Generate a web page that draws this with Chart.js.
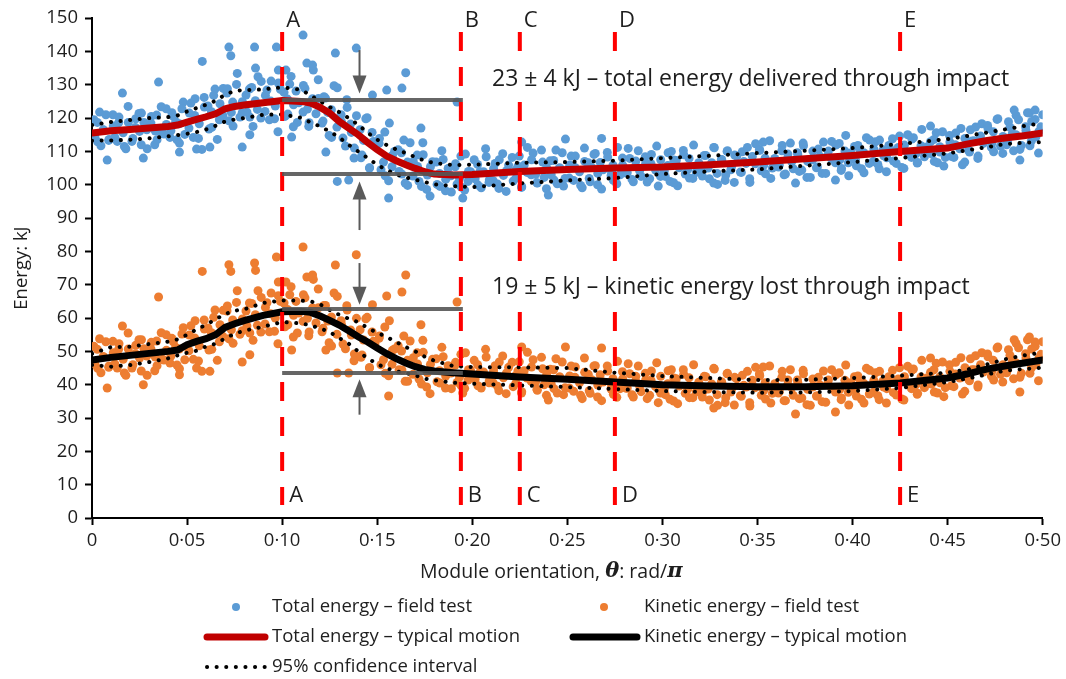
<!DOCTYPE html>
<html>
<head>
<meta charset="utf-8">
<script src="https://cdn.jsdelivr.net/npm/chart.js@4.4.0/dist/chart.umd.min.js"></script>
<style>
  html, body { margin: 0; padding: 0; background: #fff; }
  #wrap { width: 1066px; height: 679px; }
</style>
</head>
<body>
<div id="wrap"><canvas id="energyChart" width="1066" height="679"></canvas></div>
<script>
// field test samples - total and kinetic energy were logged at the same orientations
const testTheta = [
  0.001, 0.003, 0.004, 0.006, 0.009,  0.011, 0.012, 0.014, 0.017, 0.019,
  0.021, 0.023, 0.025, 0.026, 0.029,  0.031, 0.033, 0.034, 0.037, 0.039,
  0.041, 0.042, 0.044, 0.046, 0.048,  0.051, 0.052, 0.054, 0.056, 0.059,
  0.061, 0.063, 0.064, 0.067, 0.069,  0.071, 0.072, 0.074, 0.076, 0.079,
  0.081, 0.083, 0.084, 0.087, 0.089,  0.091, 0.092, 0.094, 0.096, 0.098,
  0.101, 0.103, 0.104, 0.106, 0.108,  0.111, 0.112, 0.114, 0.116, 0.119,
  0.121, 0.122, 0.124, 0.126, 0.129,  0.131, 0.132, 0.134, 0.136, 0.138,
  0.141, 0.142, 0.144, 0.146, 0.148,  0.151, 0.152, 0.154, 0.156, 0.158,
  0.161, 0.163, 0.164, 0.166, 0.169,  0.171, 0.172, 0.174, 0.176, 0.178,
  0.181, 0.183, 0.184, 0.186, 0.189,  0.191, 0.192, 0.194, 0.196, 0.198,
  0.201, 0.203, 0.204, 0.207, 0.209,  0.211, 0.212, 0.214, 0.216, 0.218,
  0.221, 0.223, 0.224, 0.226, 0.229,  0.231, 0.232, 0.234, 0.237, 0.239,
  0.241, 0.243, 0.244, 0.246, 0.248,  0.251, 0.252, 0.254, 0.257, 0.259,
  0.261, 0.262, 0.264, 0.266, 0.268,  0.271, 0.273, 0.274, 0.276, 0.279,
  0.281, 0.282, 0.284, 0.286, 0.288,  0.291, 0.292, 0.294, 0.297, 0.299,
  0.301, 0.303, 0.304, 0.306, 0.308,  0.311, 0.312, 0.314, 0.316, 0.319,
  0.321, 0.322, 0.324, 0.327, 0.329,  0.331, 0.333, 0.334, 0.336, 0.338,
  0.341, 0.342, 0.344, 0.346, 0.349,  0.351, 0.352, 0.354, 0.357, 0.359,
  0.361, 0.363, 0.364, 0.366, 0.368,  0.371, 0.372, 0.374, 0.376, 0.379,
  0.381, 0.382, 0.384, 0.387, 0.389,  0.391, 0.393, 0.394, 0.396, 0.398,
  0.401, 0.402, 0.404, 0.406, 0.409,  0.411, 0.412, 0.414, 0.416, 0.418,
  0.421, 0.423, 0.424, 0.427, 0.429,  0.431, 0.432, 0.434, 0.436, 0.438,
  0.441, 0.443, 0.444, 0.446, 0.448,  0.451, 0.452, 0.454, 0.457, 0.459,
  0.461, 0.462, 0.464, 0.466, 0.468,  0.471, 0.473, 0.474, 0.476, 0.479,
  0.481, 0.482, 0.484, 0.486, 0.488,  0.491, 0.492, 0.494, 0.496, 0.498, 0.500,
  // second pass
  0.0015, 0.0028, 0.0047, 0.0059, 0.0073, 0.0088,  0.0112, 0.0133, 0.0142, 0.0164, 0.0178, 0.0191,
  0.0215, 0.0228, 0.0247, 0.0259, 0.0273, 0.0288,  0.0312, 0.0333, 0.0342, 0.0364, 0.0378, 0.0391,
  0.0415, 0.0428, 0.0447, 0.0459, 0.0473, 0.0488,  0.0512, 0.0533, 0.0542, 0.0564, 0.0578, 0.0591,
  0.0615, 0.0628, 0.0647, 0.0659, 0.0673, 0.0688,  0.0712, 0.0733, 0.0742, 0.0764, 0.0778, 0.0791,
  0.0815, 0.0828, 0.0847, 0.0859, 0.0873, 0.0888,  0.0912, 0.0933, 0.0942, 0.0964, 0.0978, 0.0991,
  0.1015, 0.1028, 0.1047, 0.1059, 0.1073, 0.1088,  0.1112, 0.1133, 0.1142, 0.1164, 0.1178, 0.1191,
  0.1215, 0.1228, 0.1247, 0.1259, 0.1273, 0.1288,  0.1312, 0.1333, 0.1342, 0.1364, 0.1378, 0.1391,
  0.1415, 0.1428, 0.1447, 0.1459, 0.1473, 0.1488,  0.1512, 0.1533, 0.1542, 0.1564, 0.1578, 0.1591,
  0.1615, 0.1628, 0.1647, 0.1659, 0.1673, 0.1688,  0.1712, 0.1733, 0.1742, 0.1764, 0.1778, 0.1791,
  0.1815, 0.1828, 0.1847, 0.1859, 0.1873, 0.1888,  0.1912, 0.1933, 0.1942, 0.1964, 0.1978, 0.1991,
  0.2015, 0.2028, 0.2047, 0.2059, 0.2073, 0.2088,  0.2112, 0.2133, 0.2142, 0.2164, 0.2178, 0.2191,
  0.2215, 0.2228, 0.2247, 0.2259, 0.2273, 0.2288,  0.2312, 0.2333, 0.2342, 0.2364, 0.2378, 0.2391,
  0.2415, 0.2428, 0.2447, 0.2459, 0.2473, 0.2488,  0.2512, 0.2533, 0.2542, 0.2564, 0.2578, 0.2591,
  0.2615, 0.2628, 0.2647, 0.2659, 0.2673, 0.2688,  0.2712, 0.2733, 0.2742, 0.2764, 0.2778, 0.2791,
  0.2815, 0.2828, 0.2847, 0.2859, 0.2873, 0.2888,  0.2912, 0.2933, 0.2942, 0.2964, 0.2978, 0.2991,
  0.3015, 0.3028, 0.3047, 0.3059, 0.3073, 0.3088,  0.3112, 0.3133, 0.3142, 0.3164, 0.3178, 0.3191,
  0.3215, 0.3228, 0.3247, 0.3259, 0.3273, 0.3288,  0.3312, 0.3333, 0.3342, 0.3364, 0.3378, 0.3391,
  0.3415, 0.3428, 0.3447, 0.3459, 0.3473, 0.3488,  0.3512, 0.3533, 0.3542, 0.3564, 0.3578, 0.3591,
  0.3615, 0.3628, 0.3647, 0.3659, 0.3673, 0.3688,  0.3712, 0.3733, 0.3742, 0.3764, 0.3778, 0.3791,
  0.3815, 0.3828, 0.3847, 0.3859, 0.3873, 0.3888,  0.3912, 0.3933, 0.3942, 0.3964, 0.3978, 0.3991,
  0.4015, 0.4028, 0.4047, 0.4059, 0.4073, 0.4088,  0.4112, 0.4133, 0.4142, 0.4164, 0.4178, 0.4191,
  0.4215, 0.4228, 0.4247, 0.4259, 0.4273, 0.4288,  0.4312, 0.4333, 0.4342, 0.4364, 0.4378, 0.4391,
  0.4415, 0.4428, 0.4447, 0.4459, 0.4473, 0.4488,  0.4512, 0.4533, 0.4542, 0.4564, 0.4578, 0.4591,
  0.4615, 0.4628, 0.4647, 0.4659, 0.4673, 0.4688,  0.4712, 0.4733, 0.4742, 0.4764, 0.4778, 0.4791,
  0.4815, 0.4828, 0.4847, 0.4859, 0.4873, 0.4888,  0.4912, 0.4933, 0.4942, 0.4964, 0.4978, 0.4991,
  // scattered readings
  0.008, 0.016, 0.027, 0.035, 0.046, 0.055, 0.058, 0.062, 0.072, 0.073,
  0.079, 0.083, 0.0855, 0.086, 0.097, 0.098, 0.102, 0.105, 0.111, 0.113,
  0.116, 0.123, 0.128, 0.129, 0.135, 0.139, 0.1475, 0.155, 0.156, 0.163,
  0.165, 0.173, 0.192, 0.195, 0.226, 0.240, 0.249, 0.268, 0.327, 0.353,
  0.370, 0.391, 0.441, 0.485, 0.488, 0.493, 0.496
];
const totalTest = [
  119.5, 112.9, 121.8, 116.4, 113.6,  121.0, 114.2, 118.6, 111.5, 123.5,
  113.0, 119.8, 116.0, 121.5, 110.8,  118.5, 112.0, 120.9, 115.4, 122.8,
  114.2, 121.6, 118.9, 112.5, 124.8,  117.0, 124.5, 120.8, 113.9, 126.2,
  123.6, 117.2, 126.8, 119.5, 128.9,  127.5, 119.2, 124.8, 130.1, 121.6,
  126.9, 120.3, 129.2, 122.6, 131.0,  122.0, 128.4, 125.1, 119.8, 130.5,
  127.7, 121.2, 130.2, 124.0, 118.7,  121.8, 128.9, 117.5, 125.8, 131.5,
  118.5, 126.4, 121.7, 114.2, 129.1,  121.0, 114.0, 125.5, 118.2, 111.0,
  116.5, 108.9, 119.8, 105.1, 113.0,  112.4, 104.5, 115.8, 101.2, 108.8,
  110.5, 103.2, 113.4, 99.8, 106.9,   108.9, 101.0, 112.6, 98.6, 105.4,
  106.8, 99.5, 110.2, 101.6, 97.8,    105.4, 100.2, 108.6, 98.4, 104.0,
  107.5, 99.9, 103.9, 110.8, 101.5,   101.2, 106.4, 98.9, 109.3, 104.2,
  108.2, 102.0, 105.6, 99.4, 111.2,   103.0, 109.5, 100.6, 106.8, 98.8,
  107.2, 101.4, 110.4, 104.9, 99.6,   102.0, 108.6, 105.2, 99.8, 111.0,
  106.6, 100.9, 109.1, 103.4, 98.7,   109.7, 102.8, 105.9, 100.3, 108.0,
  103.5, 110.9, 101.6, 107.1, 104.2,  108.4, 100.8, 106.3, 111.6, 102.5,
  104.1, 109.6, 101.0, 107.4, 99.7,   110.3, 103.2, 107.9, 101.9, 105.8,
  102.6, 108.8, 105.0, 111.2, 100.1,  107.6, 101.3, 110.0, 104.5, 108.9,
  103.8, 109.9, 106.4, 100.7, 112.3,  110.6, 104.2, 108.0, 101.9, 106.6,
  105.3, 111.8, 103.0, 109.2, 106.9,  109.6, 104.0, 112.5, 102.2, 107.5,
  105.1, 110.7, 103.4, 108.9, 113.0,  106.6, 112.4, 104.3, 110.1, 102.7,
  111.5, 105.7, 109.8, 103.6, 113.4,  107.0, 112.9, 104.8, 110.4, 108.1,
  113.8, 106.4, 111.2, 104.9, 115.0,  108.2, 114.1, 106.5, 111.7, 109.4,
  112.9, 107.0, 115.6, 109.8, 105.6,  114.8, 108.5, 112.0, 116.9, 106.8,
  110.4, 116.5, 113.2, 108.6, 118.3,  117.8, 111.2, 115.9, 119.6, 109.4,
  112.0, 118.9, 115.3, 120.8, 110.6,  117.4, 121.6, 113.1, 119.6, 116.0, 121.0,
  // second pass
  114.4, 118.7, 111.7, 116.5, 121.0, 113.3,  117.6, 113.0, 120.3, 115.6, 110.8, 118.7,
  113.9, 117.2, 121.4, 112.0, 118.7, 116.5,  120.5, 116.1, 113.5, 123.4, 115.2, 118.1,
  116.2, 120.5, 113.5, 118.3, 122.8, 115.1,  121.5, 114.2, 125.8, 118.3, 110.6, 123.3,
  116.7, 121.9, 128.7, 113.6, 124.3, 120.8,  128.8, 121.7, 117.6, 133.4, 120.3, 124.9,
  121.8, 128.7, 117.5, 125.2, 132.4, 120.0,  126.8, 119.5, 131.1, 123.6, 115.9, 128.6,
  120.5, 125.7, 132.5, 117.4, 128.1, 124.6,  129.8, 122.7, 118.6, 134.4, 121.3, 125.9,
  119.1, 126.0, 114.8, 122.5, 129.7, 117.3,  118.9, 111.6, 123.2, 115.7, 108.0, 120.7,
  108.1, 113.3, 120.1, 105.0, 115.7, 112.2,  113.9, 106.8, 102.7, 118.5, 105.4, 110.0,
  104.0, 109.6, 100.5, 106.8, 112.6, 102.6,  105.5, 99.5, 109.0, 102.9, 96.6, 106.9,
  100.1, 103.4, 107.6, 98.2, 104.9, 102.7,   106.3, 101.9, 99.3, 109.2, 101.0, 103.9,
  101.8, 106.1, 99.1, 103.9, 108.4, 100.7,   104.8, 100.2, 107.5, 102.8, 98.0, 105.9,
  101.1, 104.4, 108.6, 99.2, 105.9, 103.7,   107.5, 103.1, 100.5, 110.4, 102.2, 105.1,
  103.0, 107.3, 100.3, 105.1, 109.6, 101.9,  105.9, 101.3, 108.6, 103.9, 99.1, 107.0,
  101.9, 105.2, 109.4, 100.0, 106.7, 104.5,  108.3, 103.9, 101.3, 111.2, 103.0, 105.9,
  103.6, 107.9, 100.9, 105.7, 110.2, 102.5,  106.4, 101.8, 109.1, 104.4, 99.6, 107.5,
  102.5, 105.8, 110.0, 100.6, 107.3, 105.1,  109.0, 104.6, 102.0, 111.9, 103.7, 106.6,
  104.5, 108.8, 101.8, 106.6, 111.1, 103.4,  107.5, 102.9, 110.2, 105.5, 100.7, 108.6,
  103.7, 107.0, 111.2, 101.8, 108.5, 106.3,  110.3, 105.9, 103.3, 113.2, 105.0, 107.9,
  105.9, 110.2, 103.2, 108.0, 112.5, 104.8,  109.0, 104.4, 111.7, 107.0, 102.2, 110.1,
  105.3, 108.6, 112.8, 103.4, 110.1, 107.9,  111.9, 107.5, 104.9, 114.8, 106.6, 109.5,
  107.5, 111.8, 104.8, 109.6, 114.1, 106.4,  110.7, 106.1, 113.4, 108.7, 103.9, 111.8,
  107.1, 110.4, 114.6, 105.2, 111.9, 109.7,  113.7, 109.3, 106.7, 116.6, 108.4, 111.3,
  109.3, 113.6, 106.6, 111.4, 115.9, 108.2,  112.8, 108.2, 115.5, 110.8, 106.0, 113.9,
  109.8, 113.1, 117.3, 107.9, 114.6, 112.4,  116.9, 112.5, 109.9, 119.8, 111.6, 114.5,
  112.9, 117.2, 110.2, 115.0, 119.5, 111.8,  116.3, 111.7, 119.0, 114.3, 109.5, 117.4,
  // scattered readings
  107.4, 127.5, 108.0, 130.8, 109.8, 110.7, 137.0, 111.3, 141.3, 138.7,
  111.3, 115.0, 141.3, 135.0, 141.3, 134.4, 134.4, 114.3, 144.9, 136.5,
  135.9, 109.8, 139.5, 101.0, 101.4, 141.0, 126.9, 128.4, 96.0, 129.0,
  133.6, 117.0, 124.8, 96.0, 112.8, 96.9, 113.7, 113.9, 100.5, 112.8,
  100.5, 101.4, 117.6, 122.4, 107.4, 121.5, 122.4
];
const kineticTest = [
  51.5, 44.9, 53.8, 48.4, 45.6,  53.0, 46.2, 50.6, 43.5, 55.5,
  45.0, 51.8, 48.0, 53.5, 42.8,  50.7, 44.2, 53.1, 47.6, 55.0,
  46.5, 53.9, 51.2, 44.8, 57.1,  50.2, 57.7, 54.0, 47.1, 59.4,
  57.0, 50.6, 60.2, 52.9, 62.3,  62.1, 53.8, 59.4, 64.7, 56.2,
  62.1, 55.5, 64.4, 57.8, 66.2,  58.2, 64.6, 61.3, 56.0, 66.7,
  64.5, 58.0, 67.0, 60.8, 55.5,  59.0, 66.1, 54.7, 63.0, 68.7,
  55.9, 63.8, 59.1, 51.6, 66.5,  59.2, 52.2, 63.7, 56.4, 49.2,
  56.5, 48.9, 59.8, 45.1, 53.0,  53.9, 46.0, 57.3, 42.7, 50.3,
  51.7, 44.4, 54.6, 41.0, 48.1,  49.6, 41.7, 53.3, 39.3, 46.1,
  47.8, 40.5, 51.2, 42.6, 38.8,  45.9, 40.7, 49.1, 38.9, 44.5,
  47.3, 39.7, 43.7, 50.6, 41.3,  40.5, 45.7, 38.2, 48.6, 43.5,
  46.7, 40.5, 44.1, 37.9, 49.7,  41.0, 47.5, 38.6, 44.8, 36.8,
  44.6, 38.8, 47.8, 42.3, 37.0,  39.0, 45.6, 42.2, 36.8, 48.0,
  43.1, 37.4, 45.6, 39.9, 35.2,  45.6, 38.7, 41.8, 36.2, 43.9,
  38.9, 46.3, 37.0, 42.5, 39.6,  43.4, 35.8, 41.3, 46.6, 37.5,
  38.7, 44.2, 35.6, 42.0, 34.3,  44.5, 37.4, 42.1, 36.1, 40.0,
  36.3, 42.5, 38.7, 44.9, 33.8,  40.9, 34.6, 43.3, 37.8, 42.2,
  36.7, 42.8, 39.3, 33.6, 45.2,  43.2, 36.8, 40.6, 34.5, 39.2,
  37.5, 44.0, 35.2, 41.4, 39.1,  41.4, 35.8, 44.3, 34.0, 39.3,
  36.6, 42.2, 34.9, 40.4, 44.5,  37.8, 43.6, 35.5, 41.3, 33.9,
  42.4, 36.6, 40.7, 34.5, 44.3,  37.7, 43.6, 35.5, 41.1, 38.8,
  44.3, 36.9, 41.7, 35.4, 45.5,  38.8, 44.7, 37.1, 42.3, 40.0,
  43.7, 37.8, 46.4, 40.6, 36.4,  46.0, 39.7, 43.2, 48.1, 38.0,
  41.7, 47.8, 44.5, 39.9, 49.6,  49.2, 42.6, 47.3, 51.0, 40.8,
  43.6, 50.5, 46.9, 52.4, 42.2,  49.3, 53.5, 45.0, 51.5, 47.9, 52.9,
  // second pass
  46.3, 50.6, 43.6, 48.4, 52.9, 45.2,  49.6, 45.0, 52.3, 47.6, 42.8, 50.7,
  46.0, 49.3, 53.5, 44.1, 50.8, 48.6,  52.7, 48.3, 45.7, 55.6, 47.4, 50.3,
  48.6, 52.9, 45.9, 50.7, 55.2, 47.5,  54.9, 47.6, 59.2, 51.7, 44.0, 56.7,
  50.4, 55.6, 62.4, 47.3, 58.0, 54.5,  63.6, 56.5, 52.4, 68.2, 55.1, 59.7,
  57.6, 64.5, 53.3, 61.0, 68.2, 55.8,  63.2, 55.9, 67.5, 60.0, 52.3, 65.0,
  57.4, 62.6, 69.4, 54.3, 65.0, 61.5,  67.0, 59.9, 55.8, 71.6, 58.5, 63.1,
  56.9, 63.8, 52.6, 60.3, 67.5, 55.1,  58.1, 50.8, 62.4, 54.9, 47.2, 59.9,
  48.2, 53.4, 60.2, 45.1, 55.8, 52.3,  54.6, 47.5, 43.4, 59.2, 46.1, 50.7,
  44.5, 50.1, 41.0, 47.3, 53.1, 43.1,  46.2, 40.2, 49.7, 43.6, 37.3, 47.6,
  40.9, 44.2, 48.4, 39.0, 45.7, 43.5,  46.7, 42.3, 39.7, 49.6, 41.4, 44.3,
  41.7, 46.0, 39.0, 43.8, 48.3, 40.6,  44.1, 39.5, 46.8, 42.1, 37.3, 45.2,
  39.4, 42.7, 46.9, 37.5, 44.2, 42.0,  45.3, 40.9, 38.3, 48.2, 40.0, 42.9,
  40.2, 44.5, 37.5, 42.3, 46.8, 39.1,  42.6, 38.0, 45.3, 40.6, 35.8, 43.7,
  38.2, 41.5, 45.7, 36.3, 43.0, 40.8,  44.1, 39.7, 37.1, 47.0, 38.8, 41.7,
  39.0, 43.3, 36.3, 41.1, 45.6, 37.9,  41.4, 36.8, 44.1, 39.4, 34.6, 42.5,
  37.0, 40.3, 44.5, 35.1, 41.8, 39.6,  43.1, 38.7, 36.1, 46.0, 37.8, 40.7,
  38.1, 42.4, 35.4, 40.2, 44.7, 37.0,  40.7, 36.1, 43.4, 38.7, 33.9, 41.8,
  36.5, 39.8, 44.0, 34.6, 41.3, 39.1,  42.7, 38.3, 35.7, 45.6, 37.4, 40.3,
  37.9, 42.2, 35.2, 40.0, 44.5, 36.8,  40.6, 36.0, 43.3, 38.6, 33.8, 41.7,
  36.6, 39.9, 44.1, 34.7, 41.4, 39.2,  43.0, 38.6, 36.0, 45.9, 37.7, 40.6,
  38.3, 42.6, 35.6, 40.4, 44.9, 37.2,  41.3, 36.7, 44.0, 39.3, 34.5, 42.4,
  37.6, 40.9, 45.1, 35.7, 42.4, 40.2,  44.4, 40.0, 37.4, 47.3, 39.1, 42.0,
  40.2, 44.5, 37.5, 42.3, 46.8, 39.1,  44.0, 39.4, 46.7, 42.0, 37.2, 45.1,
  41.2, 44.5, 48.7, 39.3, 46.0, 43.8,  48.4, 44.0, 41.4, 51.3, 43.1, 46.0,
  44.5, 48.8, 41.8, 46.6, 51.1, 43.4,  48.0, 43.4, 50.7, 46.0, 41.2, 49.1,
  // scattered readings
  39.0, 57.6, 40.0, 66.3, 43.0, 45.0, 74.0, 44.0, 76.0, 74.0,
  46.8, 49.0, 76.5, 74.3, 78.3, 70.8, 70.8, 50.4, 81.3, 72.3,
  72.9, 50.4, 75.9, 43.5, 43.5, 79.0, 64.0, 66.6, 36.6, 67.8,
  72.9, 58.0, 64.8, 37.5, 51.3, 35.4, 51.3, 51.0, 33.0, 45.3,
  31.2, 31.8, 48.0, 53.5, 37.8, 54.3, 52.8
];

// typical motion and its 95% band
const curveTheta = [0, 0.01, 0.02, 0.03, 0.04, 0.045, 0.05, 0.055, 0.06, 0.065, 0.07, 0.075, 0.08, 0.09,
  0.10, 0.11, 0.115, 0.12, 0.125, 0.13, 0.135, 0.14, 0.145, 0.15, 0.155, 0.16, 0.165, 0.17, 0.175, 0.18,
  0.19, 0.20, 0.225, 0.25, 0.275, 0.30, 0.325, 0.35, 0.375, 0.40, 0.425, 0.45, 0.46, 0.47, 0.48, 0.49, 0.50];
const totalTypical = [115.5, 116.2, 116.6, 117.0, 117.5, 117.9, 118.8, 119.6, 120.4, 121.3, 122.8, 123.5, 123.9, 124.6,
  125.3, 125.0, 124.5, 123.2, 121.5, 119.0, 117.0, 115.0, 112.7, 110.5, 108.6, 107.2, 106.0, 104.9, 103.9, 103.2,
  102.9, 103.1, 104.0, 104.6, 105.0, 105.3, 106.0, 106.8, 107.8, 108.8, 110.0, 111.0, 112.2, 113.2, 114.0, 114.7, 115.5];
const totalUpper = [117.9, 118.8, 119.4, 120.0, 120.3, 120.8, 122.0, 123.0, 124.0, 125.2, 127.0, 128.2, 128.4, 128.6,
  129.2, 128.5, 126.8, 125.0, 123.3, 121.8, 120.0, 118.0, 115.6, 113.5, 111.9, 110.6, 109.5, 108.3, 107.2, 106.5,
  105.9, 106.0, 106.6, 106.8, 107.2, 108.0, 108.7, 109.5, 110.2, 111.0, 112.2, 113.7, 114.6, 115.6, 116.6, 117.6, 118.5];
const totalLower = [113.2, 113.3, 113.5, 113.9, 114.5, 114.9, 115.3, 115.8, 116.6, 117.7, 119.0, 119.6, 120.0, 121.0,
  121.1, 120.1, 118.7, 117.5, 116.0, 114.2, 112.0, 110.0, 108.0, 106.0, 104.4, 103.1, 102.2, 101.5, 100.8, 100.1,
  99.6, 99.3, 100.4, 101.3, 102.0, 103.2, 104.0, 104.6, 105.7, 106.8, 108.0, 109.4, 110.3, 111.2, 112.2, 112.6, 112.8];
const kineticTypical = [47.4, 48.2, 48.8, 49.4, 50.0, 50.4, 52.0, 53.0, 53.8, 55.0, 57.2, 58.3, 59.2, 60.8,
  61.9, 62.0, 61.7, 60.6, 59.3, 57.9, 56.2, 54.4, 52.8, 51.0, 49.3, 47.8, 46.5, 45.4, 44.6, 44.1,
  43.6, 43.2, 42.3, 41.6, 40.8, 40.0, 39.6, 39.4, 39.4, 39.7, 40.5, 42.0, 43.2, 44.6, 45.6, 46.5, 47.4];
const kineticUpper = [49.3, 51.3, 51.4, 52.2, 52.9, 53.6, 55.0, 56.6, 58.0, 59.6, 61.2, 62.2, 62.6, 64.5,
  65.3, 65.2, 65.0, 64.1, 62.4, 61.0, 59.8, 58.8, 57.0, 55.6, 54.3, 52.8, 51.3, 50.0, 48.4, 47.2,
  45.6, 45.3, 45.2, 45.0, 43.6, 42.6, 42.0, 41.4, 41.5, 42.0, 42.7, 43.6, 44.5, 46.0, 47.6, 48.8, 49.7];
const kineticLower = [45.9, 45.4, 45.9, 46.8, 47.9, 48.8, 49.6, 50.2, 51.5, 52.3, 53.9, 55.3, 56.2, 57.4,
  58.8, 58.4, 57.8, 56.9, 55.8, 54.0, 52.3, 50.0, 47.9, 46.2, 44.9, 44.0, 43.5, 42.8, 41.8, 41.3,
  40.6, 40.3, 39.8, 39.3, 38.7, 38.1, 37.8, 37.6, 37.7, 38.1, 39.0, 40.8, 41.8, 43.0, 44.2, 44.7, 45.1];

// marked orientations
const markTheta = [0.10, 0.194, 0.225, 0.275, 0.425];
const markLabels = ['A', 'B', 'C', 'D', 'E'];

// energy change through impact (upper and lower level, range of theta)
const totalBand = [125.4, 103.2];
const kineticBand = [62.7, 43.5];
const bandTheta = [0.10, 0.194];
const bandNotes = ['23 \u00B1 4 kJ \u2013 total energy delivered through impact',
                   '19 \u00B1 5 kJ \u2013 kinetic energy lost through impact'];

const xTicks = [0, 0.05, 0.10, 0.15, 0.20, 0.25, 0.30, 0.35, 0.40, 0.45, 0.50];

const BLUE = '#5b9bd5', ORANGE = '#ed7d31', RED = '#c00000', TXT = '#1e1e1e';
const FONT = '"Open Sans", "Noto Sans", sans-serif';

const pts = (xs, ys) => xs.map((x, i) => ({ x: x, y: ys[i] }));

function dotted(label, ys, slot) {
  return {
    label: label, data: pts(curveTheta, ys), showLine: true, pointRadius: 0,
    borderColor: '#000', borderWidth: 4, borderDash: [0.1, 9.5], borderCapStyle: 'round',
    fill: false, order: 2, legendSlot: slot
  };
}

// draws marker lines, bands, arrows and notes
const annotations = {
  id: 'annotations',
  afterDatasetsDraw(chart) {
    const { ctx, scales: { x, y } } = chart;
    ctx.save();

    // vertical dashed marks
    ctx.strokeStyle = '#ff0000';
    ctx.lineWidth = 4;
    ctx.setLineDash([19, 16]);
    markTheta.forEach(t => {
      const px = x.getPixelForValue(t);
      ctx.beginPath();
      ctx.moveTo(px, y.getPixelForValue(145.8));
      ctx.lineTo(px, y.getPixelForValue(3.9));
      ctx.stroke();
    });
    ctx.setLineDash([]);

    ctx.fillStyle = TXT;
    ctx.font = '22px ' + FONT;
    ctx.textBaseline = 'middle';
    ctx.textAlign = 'left';
    markTheta.forEach((t, i) => {
      const px = x.getPixelForValue(t);
      ctx.fillText(markLabels[i], px + 4, y.getPixelForValue(149.3));
      ctx.fillText(markLabels[i], px + 7, y.getPixelForValue(6.6));
    });

    // bands
    const x0 = x.getPixelForValue(bandTheta[0]);
    const x1 = x.getPixelForValue(bandTheta[1]) + 2;
    ctx.strokeStyle = 'rgba(85,85,85,0.9)';
    ctx.lineWidth = 4;
    [totalBand, kineticBand].forEach(b => {
      b.forEach(v => {
        const py = y.getPixelForValue(v);
        ctx.beginPath();
        ctx.moveTo(x0, py);
        ctx.lineTo(x1, py);
        ctx.stroke();
      });
    });

    // arrows pointing at the bands
    const ax = x.getPixelForValue(0.1407);
    const arrow = (fromV, toV) => {
      const p0 = y.getPixelForValue(fromV), p1 = y.getPixelForValue(toV);
      const dir = p1 > p0 ? 1 : -1;
      ctx.strokeStyle = '#5a5a5a';
      ctx.fillStyle = '#5a5a5a';
      ctx.lineWidth = 2;
      ctx.beginPath();
      ctx.moveTo(ax, p0);
      ctx.lineTo(ax, p1 - dir * 16);
      ctx.stroke();
      ctx.beginPath();
      ctx.moveTo(ax, p1);
      ctx.lineTo(ax - 7, p1 - dir * 18);
      ctx.lineTo(ax + 7, p1 - dir * 18);
      ctx.closePath();
      ctx.fill();
    };
    arrow(140.4, 127.4);
    arrow(86.4, 101.0);
    arrow(76.5, 64.0);
    arrow(31.0, 41.6);

    // notes sit on a white box that hides the marker lines
    ctx.font = '23px ' + FONT;
    ctx.textBaseline = 'middle';
    const nx = x.getPixelForValue(0.2104);
    [[bandNotes[0], 131.7], [bandNotes[1], 69.3]].forEach(([txt, v]) => {
      const py = y.getPixelForValue(v);
      const w = ctx.measureText(txt).width;
      ctx.fillStyle = '#fff';
      ctx.fillRect(nx - 6, py - 16, w + 12, 32);
      ctx.fillStyle = TXT;
      ctx.fillText(txt, nx, py);
    });
    ctx.restore();
  }
};

// x axis title with math symbols, and a two column legend
const extras = {
  id: 'extras',
  afterDraw(chart) {
    const { ctx, chartArea } = chart;
    ctx.save();
    ctx.fillStyle = TXT;
    ctx.textBaseline = 'middle';
    const parts = [
      ['Module orientation, ', '19.5px ' + FONT],
      ['\u03B8', 'italic bold 21px "DejaVu Serif", serif'],
      [': rad/', '19.5px ' + FONT],
      ['\u03C0', 'italic bold 21px "DejaVu Serif", serif']
    ];
    let w = 0;
    parts.forEach(p => { ctx.font = p[1]; w += ctx.measureText(p[0]).width; });
    let tx = (chartArea.left + chartArea.right) / 2 - 16 - w / 2;
    parts.forEach(p => {
      ctx.font = p[1];
      ctx.fillText(p[0], tx, 572);
      tx += ctx.measureText(p[0]).width;
    });

    // legend
    const colMark = [236, 604], colLine = [[207, 265], [573, 637]], colText = [272, 644];
    const rowY = [607, 637, 667];
    chart.data.datasets.forEach(ds => {
      if (!ds.legendSlot) return;
      const [col, row] = ds.legendSlot;
      const yy = rowY[row];
      ctx.save();
      if (ds.showLine) {
        ctx.strokeStyle = ds.borderColor;
        ctx.lineWidth = ds.borderWidth;
        ctx.lineCap = 'round';
        if (ds.borderDash) ctx.setLineDash(ds.borderDash);
        ctx.beginPath();
        ctx.moveTo(colLine[col][0], yy);
        ctx.lineTo(colLine[col][1], yy);
        ctx.stroke();
      } else {
        ctx.fillStyle = ds.backgroundColor;
        ctx.beginPath();
        ctx.arc(colMark[col], yy, 4, 0, Math.PI * 2);
        ctx.fill();
      }
      ctx.restore();
      ctx.font = '18.5px ' + FONT;
      ctx.fillText(ds.label, colText[col], yy);
    });
    ctx.restore();
  }
};

new Chart(document.getElementById('energyChart'), {
  type: 'scatter',
  data: {
    datasets: [
      { label: 'Total energy \u2013 field test', data: pts(testTheta, totalTest),
        backgroundColor: BLUE, borderWidth: 0, pointRadius: 4.5, order: 3, legendSlot: [0, 0] },
      { label: 'Kinetic energy \u2013 field test', data: pts(testTheta, kineticTest),
        backgroundColor: ORANGE, borderWidth: 0, pointRadius: 4.5, order: 3, legendSlot: [1, 0] },
      { label: 'Total energy \u2013 typical motion', data: pts(curveTheta, totalTypical), showLine: true,
        pointRadius: 0, borderColor: RED, borderWidth: 7, borderCapStyle: 'round', order: 1, legendSlot: [0, 1] },
      { label: 'Kinetic energy \u2013 typical motion', data: pts(curveTheta, kineticTypical), showLine: true,
        pointRadius: 0, borderColor: '#000', borderWidth: 7, borderCapStyle: 'round', order: 1, legendSlot: [1, 1] },
      dotted('95% confidence interval', totalUpper, [0, 2]),
      dotted('total lower', totalLower, null),
      dotted('kinetic upper', kineticUpper, null),
      dotted('kinetic lower', kineticLower, null)
    ]
  },
  options: {
    responsive: false,
    animation: false,
    devicePixelRatio: 1,
    layout: { padding: { left: 0, right: 21, top: 18, bottom: 89 } },
    plugins: { legend: { display: false }, tooltip: { enabled: false } },
    scales: {
      x: {
        type: 'linear', min: 0, max: 0.5,
        afterBuildTicks: s => { s.ticks = xTicks.map(v => ({ value: v })); },
        afterFit: s => { s.height = 72; },
        ticks: {
          color: TXT, padding: 5, font: { family: FONT, size: 18.5 },
          callback: v => v === 0 ? '0' : v.toFixed(2).replace('.', '\u00B7')
        },
        grid: { drawOnChartArea: false, drawTicks: true, tickLength: 7, tickWidth: 2, color: '#000' },
        border: { display: true, color: '#000', width: 2 }
      },
      y: {
        min: 0, max: 150,
        afterFit: s => { s.width = 92; },
        ticks: { stepSize: 10, color: TXT, padding: 7, font: { family: FONT, size: 18.5 } },
        grid: { drawOnChartArea: false, drawTicks: true, tickLength: 7, tickWidth: 2, color: '#000' },
        border: { display: true, color: '#000', width: 2 },
        title: { display: true, text: 'Energy: kJ', color: TXT, padding: { top: 11, bottom: 0 },
                 font: { family: FONT, size: 18.5 } }
      }
    }
  },
  plugins: [annotations, extras]
});
</script>
</body>
</html>
